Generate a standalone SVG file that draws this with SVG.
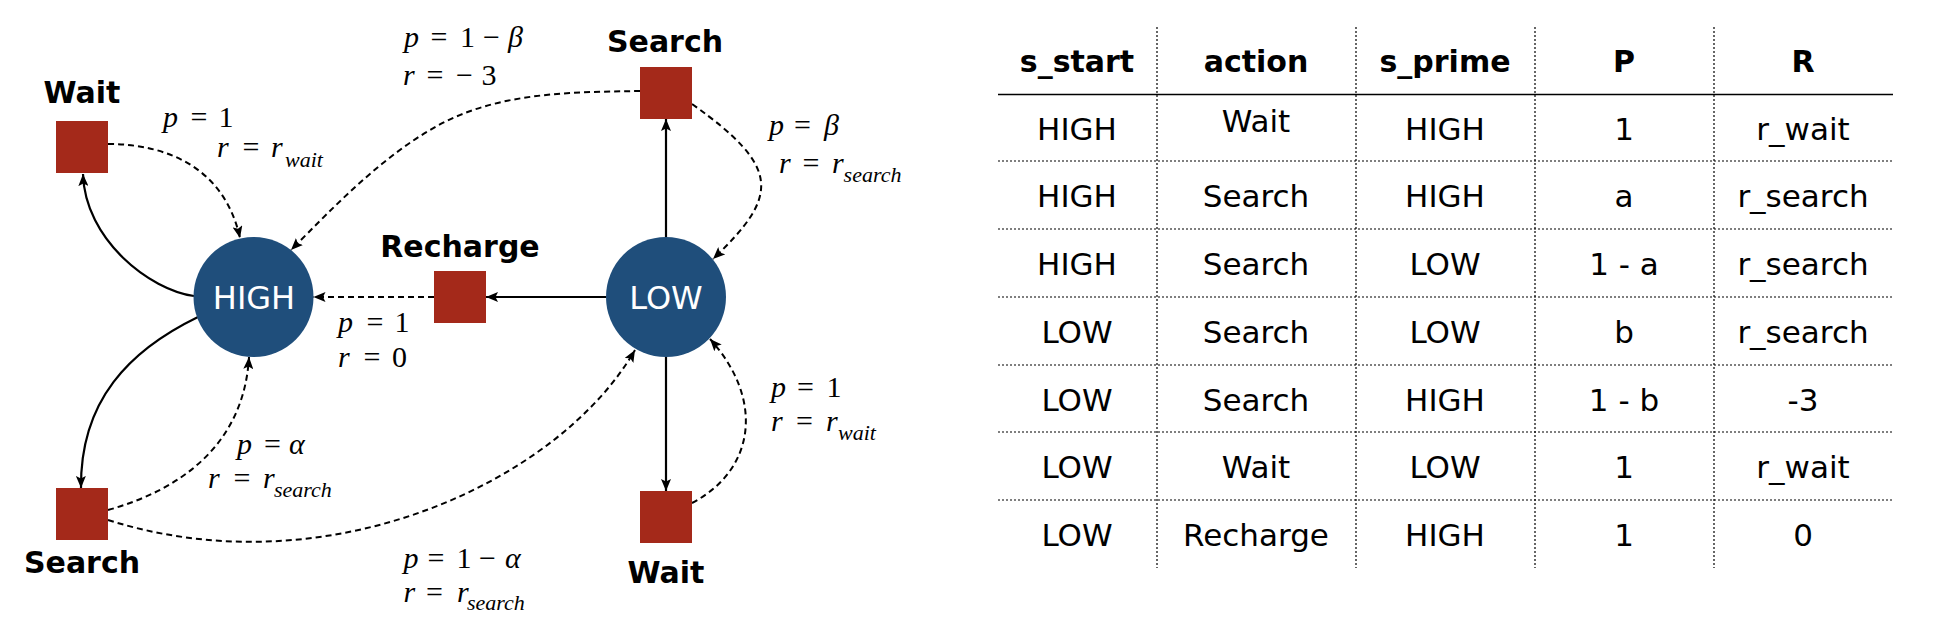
<svg xmlns="http://www.w3.org/2000/svg" width="1936" height="628" viewBox="0 0 1936 628">
<defs>
<marker id="arr" viewBox="0 0 12 10" refX="12" refY="5" markerWidth="12" markerHeight="10" markerUnits="userSpaceOnUse" orient="auto"><path d="M0,0 L12,5 L0,10 L2.5,5 z" fill="#000"/></marker>
<style>
.act{fill:#a4291a}
.st{fill:#1f4e7b}
.nl{font-family:"DejaVu Sans",sans-serif;font-weight:bold;font-size:30px;fill:#000;text-anchor:middle}
.sl{font-family:"DejaVu Sans",sans-serif;font-size:32px;fill:#fff;text-anchor:middle}
.solid{fill:none;stroke:#000;stroke-width:2.2}
.dash{fill:none;stroke:#000;stroke-width:2;stroke-dasharray:6 4}
.m{font-family:"Liberation Serif",serif;font-size:30px;fill:#000}
.i{font-style:italic}
.sub{font-style:italic;font-size:22px}
.th{font-family:"DejaVu Sans",sans-serif;font-weight:bold;font-size:30px;fill:#000;text-anchor:middle}
.td{font-family:"DejaVu Sans",sans-serif;font-size:31px;fill:#000;text-anchor:middle}
.grid{stroke:#000;stroke-width:1.2;stroke-dasharray:2 2}
.rule{stroke:#000;stroke-width:1.6}
</style>
</defs>
<rect width="1936" height="628" fill="#fff"/>

<g id="connectors">
<path class="solid" d="M194 296 C150 290 85 240 83 174" marker-end="url(#arr)"/>
<path class="solid" d="M198 317 C130 350 80 400 81 488" marker-end="url(#arr)"/>
<path class="dash" d="M108 144 C170 144 225 170 240 238" marker-end="url(#arr)"/>
<path class="dash" d="M108 510 C180 490 244 445 249 357" marker-end="url(#arr)"/>
<path class="dash" d="M640 91 C582 92 519 92 465 113 C397 139 335 206 291 250" marker-end="url(#arr)"/>
<path class="dash" d="M434 297 L313.5 297" marker-end="url(#arr)"/>
<path class="solid" d="M606 297 L486 297" marker-end="url(#arr)"/>
<path class="solid" d="M666 237 L666 119" marker-end="url(#arr)"/>
<path class="solid" d="M666 357 L666 491" marker-end="url(#arr)"/>
<path class="dash" d="M692 104 C782 168 779 196 713 259" marker-end="url(#arr)"/>
<path class="dash" d="M692 503 C755 470 765 400 710 339" marker-end="url(#arr)"/>
<path class="dash" d="M108 520 C330 590 560 480 635 350" marker-end="url(#arr)"/>
</g>

<g id="edge-labels">
<text class="m"><tspan class="i" x="163" y="127">p</tspan><tspan x="190.5" y="127">=</tspan><tspan x="218.5" y="127">1</tspan></text>
<text class="m"><tspan class="i" x="217" y="157">r</tspan><tspan x="242.5" y="157">=</tspan><tspan class="i" x="271" y="157">r</tspan><tspan class="sub" x="285" y="167">wait</tspan></text>

<text class="m"><tspan class="i" x="404" y="47">p</tspan><tspan x="430.5" y="47">=</tspan><tspan x="460" y="47">1</tspan><tspan x="483" y="47">−</tspan><tspan class="i" x="508" y="47">β</tspan></text>
<text class="m"><tspan class="i" x="403" y="85">r</tspan><tspan x="426.5" y="85">=</tspan><tspan x="456" y="85">−</tspan><tspan x="481.5" y="85">3</tspan></text>

<text class="m"><tspan class="i" x="338" y="332">p</tspan><tspan x="366.5" y="332">=</tspan><tspan x="394.5" y="332">1</tspan></text>
<text class="m"><tspan class="i" x="338" y="367">r</tspan><tspan x="363.5" y="367">=</tspan><tspan x="392" y="367">0</tspan></text>

<text class="m"><tspan class="i" x="237" y="454">p</tspan><tspan x="264" y="454">=</tspan><tspan class="i" x="289" y="454">α</tspan></text>
<text class="m"><tspan class="i" x="208" y="488">r</tspan><tspan x="233.5" y="488">=</tspan><tspan class="i" x="263" y="488">r</tspan><tspan class="sub" x="274" y="497">search</tspan></text>

<text class="m"><tspan class="i" x="403.6" y="568">p</tspan><tspan x="427.5" y="568">=</tspan><tspan x="456.5" y="568">1</tspan><tspan x="479" y="568">−</tspan><tspan class="i" x="505" y="568">α</tspan></text>
<text class="m"><tspan class="i" x="403.6" y="602">r</tspan><tspan x="426" y="602">=</tspan><tspan class="i" x="457" y="602">r</tspan><tspan class="sub" x="467" y="610">search</tspan></text>

<text class="m"><tspan class="i" x="771" y="397">p</tspan><tspan x="797" y="397">=</tspan><tspan x="826.5" y="397">1</tspan></text>
<text class="m"><tspan class="i" x="771" y="431">r</tspan><tspan x="796" y="431">=</tspan><tspan class="i" x="826" y="431">r</tspan><tspan class="sub" x="838" y="440">wait</tspan></text>

<text class="m"><tspan class="i" x="769" y="135">p</tspan><tspan x="794" y="135">=</tspan><tspan class="i" x="824" y="135">β</tspan></text>
<text class="m"><tspan class="i" x="779" y="173">r</tspan><tspan x="802.5" y="173">=</tspan><tspan class="i" x="832" y="173">r</tspan><tspan class="sub" x="843.6" y="182">search</tspan></text>
</g>

<g id="node-high">
<circle class="st" cx="253.5" cy="297" r="60"/>
<text class="sl" x="254" y="309">HIGH</text>
</g>
<g id="node-low">
<circle class="st" cx="666" cy="297" r="60"/>
<text class="sl" x="666" y="309">LOW</text>
</g>
<g id="node-wait-high">
<rect class="act" x="56" y="121" width="52" height="52"/>
<text class="nl" x="82" y="103">Wait</text>
</g>
<g id="node-search-high">
<rect class="act" x="56" y="488" width="52" height="52"/>
<text class="nl" x="82" y="573">Search</text>
</g>
<g id="node-recharge">
<rect class="act" x="434" y="271" width="52" height="52"/>
<text class="nl" x="460" y="257">Recharge</text>
</g>
<g id="node-search-low">
<rect class="act" x="640" y="67" width="52" height="52"/>
<text class="nl" x="665" y="52">Search</text>
</g>
<g id="node-wait-low">
<rect class="act" x="640" y="491" width="52" height="52"/>
<text class="nl" x="666" y="583">Wait</text>
</g>

<g id="table">
<line class="rule" x1="998" y1="94.5" x2="1893" y2="94.5"/>
<line class="grid" x1="998" y1="161" x2="1893" y2="161"/>
<line class="grid" x1="998" y1="229" x2="1893" y2="229"/>
<line class="grid" x1="998" y1="297" x2="1893" y2="297"/>
<line class="grid" x1="998" y1="365" x2="1893" y2="365"/>
<line class="grid" x1="998" y1="432" x2="1893" y2="432"/>
<line class="grid" x1="998" y1="500" x2="1893" y2="500"/>
<line class="grid" x1="1157" y1="27" x2="1157" y2="568"/>
<line class="grid" x1="1356" y1="27" x2="1356" y2="568"/>
<line class="grid" x1="1535" y1="27" x2="1535" y2="568"/>
<line class="grid" x1="1714" y1="27" x2="1714" y2="568"/>

<text class="th" x="1077" y="72">s_start</text>
<text class="th" x="1256" y="72">action</text>
<text class="th" x="1445" y="72">s_prime</text>
<text class="th" x="1624" y="72">P</text>
<text class="th" x="1803" y="72">R</text>

<text class="td" x="1077" y="140">HIGH</text><text class="td" x="1256" y="132">Wait</text><text class="td" x="1445" y="140">HIGH</text><text class="td" x="1624" y="140">1</text><text class="td" x="1803" y="140">r_wait</text>
<text class="td" x="1077" y="207">HIGH</text><text class="td" x="1256" y="207">Search</text><text class="td" x="1445" y="207">HIGH</text><text class="td" x="1624" y="207">a</text><text class="td" x="1803" y="207">r_search</text>
<text class="td" x="1077" y="275">HIGH</text><text class="td" x="1256" y="275">Search</text><text class="td" x="1445" y="275">LOW</text><text class="td" x="1624" y="275">1 - a</text><text class="td" x="1803" y="275">r_search</text>
<text class="td" x="1077" y="343">LOW</text><text class="td" x="1256" y="343">Search</text><text class="td" x="1445" y="343">LOW</text><text class="td" x="1624" y="343">b</text><text class="td" x="1803" y="343">r_search</text>
<text class="td" x="1077" y="411">LOW</text><text class="td" x="1256" y="411">Search</text><text class="td" x="1445" y="411">HIGH</text><text class="td" x="1624" y="411">1 - b</text><text class="td" x="1803" y="411">-3</text>
<text class="td" x="1077" y="478">LOW</text><text class="td" x="1256" y="478">Wait</text><text class="td" x="1445" y="478">LOW</text><text class="td" x="1624" y="478">1</text><text class="td" x="1803" y="478">r_wait</text>
<text class="td" x="1077" y="546">LOW</text><text class="td" x="1256" y="546">Recharge</text><text class="td" x="1445" y="546">HIGH</text><text class="td" x="1624" y="546">1</text><text class="td" x="1803" y="546">0</text>
</g>
</svg>
